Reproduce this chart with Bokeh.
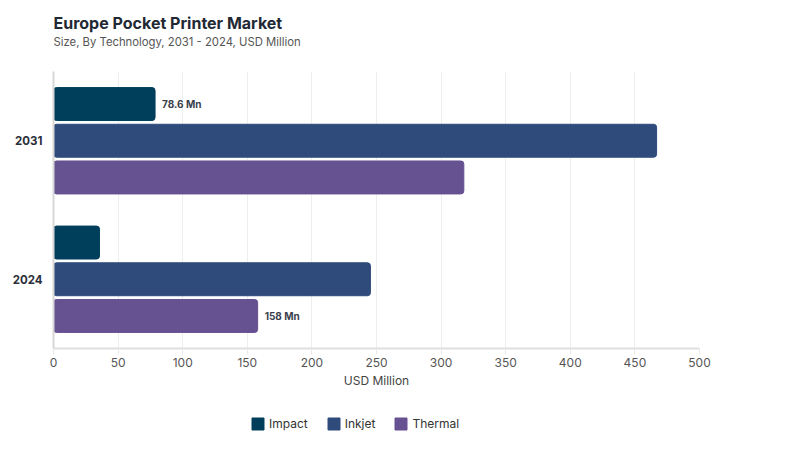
from bokeh.plotting import figure
from bokeh.layouts import column
from bokeh.models import (ColumnDataSource, FactorRange, Range1d, Legend, LegendItem,
                          Label, SingleIntervalTicker)
from bokeh.transform import dodge
from bokeh.core.properties import value
from bokeh.embed import file_html
from bokeh.resources import INLINE

# ---- data ----
years = ["2031", "2024"]
impact = [78.6, 35.6]
inkjet = [466.8, 245.3]
thermal = [317.6, 158.0]
series_names = ["Impact", "Inkjet", "Thermal"]
colors = ["#003f5c", "#2f4b7c", "#665191"]
label_series = ["Impact", "Thermal"]
label_years = ["2031", "2024"]
label_texts = ["78.6 Mn", "158 Mn"]
title_text = "Europe Pocket Printer Market"
subtitle_text = "Size, By Technology, 2031 - 2024, USD Million"

FONT = "Inter"
W = 784
BL, BR = 53, 85          # left / right borders (frame is shared by the column)
FW = W - BL - BR


def blank(h):
    f = figure(width=W, height=h, output_backend="svg", toolbar_location=None,
               x_range=Range1d(0, FW), y_range=Range1d(0, h),
               x_axis_location=None, y_axis_location=None,
               min_border_left=BL, min_border_right=BR,
               min_border_top=0, min_border_bottom=0)
    f.outline_line_color = None
    f.grid.visible = False
    f.background_fill_color = "white"
    f.border_fill_color = "white"
    return f


# ---- header ----
HEAD_H = 71
head = blank(HEAD_H)
head.add_layout(Label(x=0, y=HEAD_H - 22, text=title_text,
                      text_font=FONT, text_font_size="16px", text_font_style="bold",
                      text_color="#222834", text_baseline="middle", text_align="left"))
head.add_layout(Label(x=0, y=HEAD_H - 41, text=subtitle_text,
                      text_font=FONT, text_font_size="11.3px", text_font_style="normal",
                      text_color="#555555", text_baseline="middle", text_align="left"))

# ---- main chart ----
src = ColumnDataSource(dict(year=years, Impact=impact, Inkjet=inkjet, Thermal=thermal))

p = figure(width=W, height=329, output_backend="svg", toolbar_location=None,
           y_range=FactorRange(factors=years[::-1], range_padding=0),
           x_range=Range1d(0, 500),
           min_border_left=BL, min_border_right=BR, min_border_top=0, min_border_bottom=52)
p.outline_line_color = None
p.background_fill_color = "white"
p.border_fill_color = "white"

offsets = [0.265, 0.0, -0.265]
renderers = []
for name, col, off in zip(series_names, colors, offsets):
    r = p.hbar(y=dodge("year", off, range=p.y_range), right=name, left=0, height=0.238,
               source=src, fill_color=col, line_color=col, line_width=1, border_radius=3)
    renderers.append(r)

for s, yr, t in zip(label_series, label_years, label_texts):
    i = years.index(yr)
    off = offsets[series_names.index(s)]
    lsrc = ColumnDataSource(dict(x=[src.data[s][i]], yy=[yr], t=[t]))
    p.text(x="x", y=dodge("yy", off, range=p.y_range), text="t", source=lsrc,
           x_offset=7, text_baseline="middle", text_align="left",
           text_font=value(FONT), text_font_size="10px", text_font_style="bold",
           text_color="#3a3f4b")

xa = p.xaxis[0]
xa.ticker = SingleIntervalTicker(interval=50)
xa.axis_label = "USD Million"
xa.axis_label_text_font = FONT
xa.axis_label_text_font_style = "normal"
xa.axis_label_text_font_size = "12px"
xa.axis_label_text_color = "#444444"
xa.axis_label_standoff = 3
xa.major_label_text_font = FONT
xa.major_label_text_font_size = "12px"
xa.major_label_text_color = "#555555"
xa.major_label_standoff = 3
xa.axis_line_color = "#e0e0e0"
xa.axis_line_width = 2
xa.major_tick_line_color = "#e8e8e8"
xa.major_tick_in = 0
xa.major_tick_out = 6
xa.minor_tick_line_color = None

ya = p.yaxis[0]
ya.major_label_text_font = FONT
ya.major_label_text_font_size = "11.5px"
ya.major_label_text_font_style = "bold"
ya.major_label_text_color = "#2b2f38"
ya.major_label_standoff = 5
ya.axis_line_color = "#d8d8d8"
ya.axis_line_width = 2
ya.major_tick_line_color = None
ya.minor_tick_line_color = None

p.xgrid.grid_line_color = "#eeeeee"
p.ygrid.grid_line_color = None

# ---- legend strip (swatches are kept outside the strip's visible range) ----
LEG_H = 40
leg = blank(LEG_H)
leg_renderers = [leg.hbar(y=[-100], right=[1], left=[0], height=1, fill_color=c, line_color=c)
                 for c in colors]
legend = Legend(items=[LegendItem(label=n, renderers=[r]) for n, r in zip(series_names, leg_renderers)],
                orientation="horizontal", location=(197, 9),
                label_text_font=FONT, label_text_font_size="12px", label_text_color="#333333",
                glyph_width=15, glyph_height=15, label_height=15, label_standoff=4, spacing=18,
                border_line_color=None, background_fill_alpha=0, padding=0, margin=0)
leg.add_layout(legend, "center")

layout = column(head, p, leg, spacing=0)
open("out.html", "w").write(file_html(layout, INLINE))
